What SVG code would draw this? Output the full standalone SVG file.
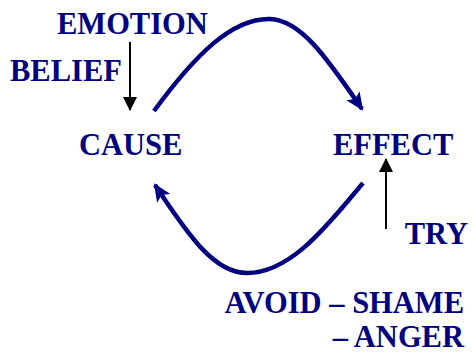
<svg xmlns="http://www.w3.org/2000/svg" width="472" height="353" viewBox="0 0 472 353">
<style>
.t{font-family:'Liberation Serif','Times New Roman','DejaVu Serif',serif;font-weight:bold;font-size:30.5px;fill:#000080}
.blue{fill:none;stroke:#000080;stroke-width:4.5}
.black{fill:none;stroke:#000;stroke-width:2}
</style>
<defs>
<marker id="ah-blue" markerUnits="userSpaceOnUse" viewBox="0 0 18 16" markerWidth="18" markerHeight="16" refX="16" refY="8" orient="auto">
<path d="M0,0 L18,8 L0,16 L4,8 Z" fill="#000080"/>
</marker>
<marker id="ah-black" markerUnits="userSpaceOnUse" viewBox="0 0 14 14" markerWidth="14" markerHeight="14" refX="13" refY="7" orient="auto">
<path d="M0,0 L14,7 L0,14 Z" fill="#000"/>
</marker>
</defs>
<g id="emotion"><text class="t" font-family="Liberation Serif, serif" x="57" y="34">EMOTION</text></g>
<g id="belief"><text class="t" font-family="Liberation Serif, serif" x="10" y="81">BELIEF</text></g>
<g id="cause"><text class="t" font-family="Liberation Serif, serif" x="79" y="155">CAUSE</text></g>
<g id="effect"><text class="t" font-family="Liberation Serif, serif" x="333" y="155">EFFECT</text></g>
<g id="try"><text class="t" font-family="Liberation Serif, serif" x="468" y="244" text-anchor="end">TRY</text></g>
<g id="avoid"><text class="t" font-family="Liberation Serif, serif" x="464" y="313" text-anchor="end">AVOID – SHAME</text><text class="t" font-family="Liberation Serif, serif" x="464" y="347" text-anchor="end">– ANGER</text></g>
<g id="connectors">
<path class="blue" d="M154,111 C195,55 232,18 270,19 C300,20 325,55 362,109" marker-end="url(#ah-blue)"/>
<path class="blue" d="M363,183 C330,222 292,273 247,273 C215,273 190,238 155,185" marker-end="url(#ah-blue)"/>
<path class="black" d="M130,42 L130,110" marker-end="url(#ah-black)"/>
<path class="black" d="M386,229 L386,159" marker-end="url(#ah-black)"/>
</g>
</svg>
